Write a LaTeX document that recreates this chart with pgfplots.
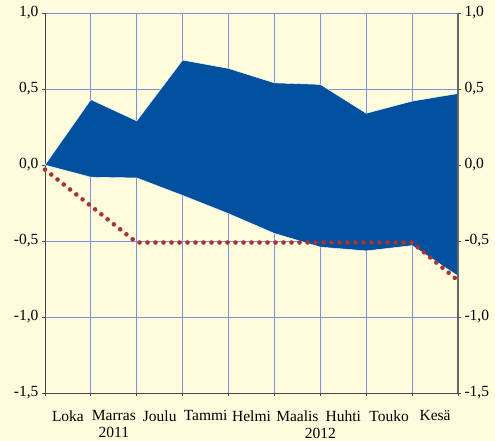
\documentclass[border=0pt]{standalone}
\usepackage{pgfplots}
\pgfplotsset{compat=1.18}
\usepackage{fontspec}
\setmainfont{Liberation Serif}
\definecolor{bg}{RGB}{255,252,222}
\definecolor{areablue}{RGB}{0,80,158}
\definecolor{dotred}{RGB}{170,50,50}
\definecolor{gridc}{RGB}{125,145,215}
\definecolor{axc}{RGB}{70,70,70}
\begin{document}
\begin{tikzpicture}[font=\fontsize{15.5}{17}\selectfont]
\path[use as bounding box, fill=bg] (0,0) rectangle (495pt,441pt);
\begin{axis}[
  at={(45pt,48pt)}, anchor=south west,
  scale only axis, width=413pt, height=380pt,
  xmin=0, xmax=9, ymin=-1.5, ymax=1,
  axis x line*=bottom, axis y line*=left,
  axis line style={axc, line width=0.9pt},
  xtick={0.5,1.5,...,8.5},
  xticklabels={Loka,{Marras\\2011},Joulu,Tammi,Helmi,Maalis,Huhti,Touko,Kesä},
  xticklabel style={align=center, yshift=-11pt, font=\fontsize{15.5}{17}\selectfont},
  major x tick style={draw=none},
  minor xtick={0,1,...,9},
  minor x tick style={axc, line width=0.8pt},
  minor tick length=3pt,
  xminorgrids,
  minor x grid style={gridc, line width=0.8pt},
  extra x ticks={3,6},
  extra x tick labels={{},{\phantom{Loka}\\2012}},
  extra x tick style={grid=none, major tick length=8pt, tick style={axc, line width=0.8pt, draw=axc},
     xticklabel style={yshift=5pt}},
  ytick={-1.5,-1,...,1},
  yticklabels={{-1,5},{-1,0},{-0,5},{0,0},{0,5},{1,0}},
  ymajorgrids,
  major y grid style={gridc, line width=0.8pt},
  major tick length=3pt,
  tick align=outside,
  y tick style={axc, line width=0.8pt},
  yticklabel style={font=\fontsize{15.5}{17}\selectfont},
  clip=false,
]
\addplot[fill=areablue, draw=white, line width=0.4pt] coordinates {
 (0,0) (1,0.43) (2,0.29) (3,0.69) (4,0.635) (5,0.54) (6,0.53) (7,0.34) (8,0.42) (9,0.47)
 (9,-0.73) (8,-0.53) (7,-0.565) (6,-0.54) (5,-0.45) (4,-0.32) (3,-0.20) (2,-0.085) (1,-0.08) (0,0)
} -- cycle;
\addplot[dotred, line width=4.6pt, line cap=round, dash pattern=on 0pt off 8pt] coordinates {
 (0,-0.03) (2,-0.51) (8,-0.51) (9,-0.76)
};
\end{axis}
\begin{axis}[
  at={(45pt,48pt)}, anchor=south west,
  scale only axis, width=413pt, height=380pt,
  xmin=0, xmax=9, ymin=-1.5, ymax=1,
  axis x line=none, axis y line*=right,
  axis line style={gray!80!black, line width=1.6pt},
  ytick={-1.5,-1,...,1},
  yticklabels={{-1,5},{-1,0},{-0,5},{0,0},{0,5},{1,0}},
  yticklabel style={font=\fontsize{15.5}{17}\selectfont},
  major tick length=3pt, tick align=outside,
  y tick style={axc, line width=0.8pt},
]
\addplot[draw=none] coordinates {(0,0)};
\end{axis}
\end{tikzpicture}
\end{document}
